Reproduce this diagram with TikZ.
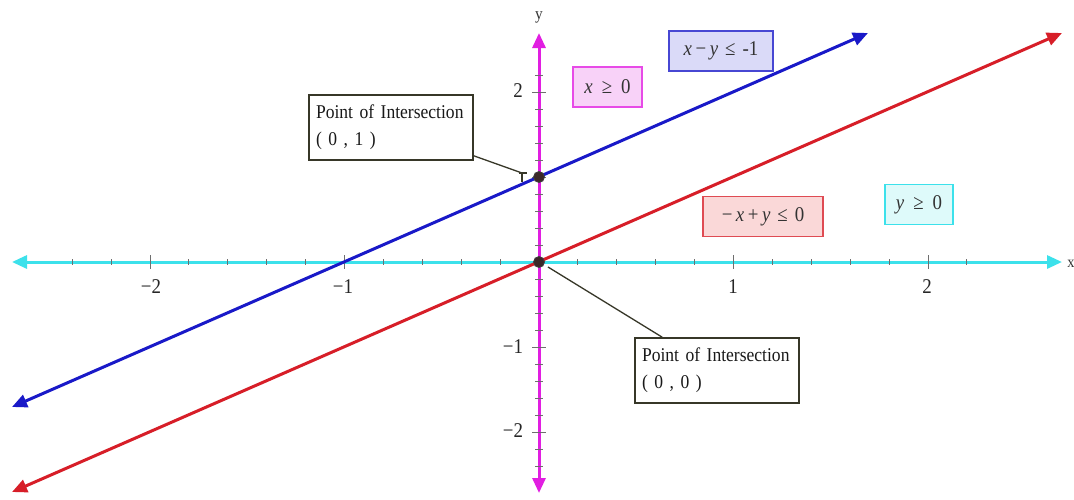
\documentclass[tikz,border=0pt]{standalone}
\usepackage{fontspec}
\setmainfont{Liberation Serif}[FakeStretch=0.9]
\usetikzlibrary{arrows.meta}
\definecolor{cblue}{RGB}{25,25,200}
\definecolor{cred}{RGB}{215,30,40}
\definecolor{ccyan}{RGB}{60,225,235}
\definecolor{cmag}{RGB}{225,30,225}
\definecolor{dotc}{RGB}{60,40,40}
\definecolor{edgec}{RGB}{55,55,40}
\definecolor{tickc}{RGB}{110,110,110}
\definecolor{fmag}{RGB}{248,210,248}
\definecolor{fblue}{RGB}{218,218,248}
\definecolor{fred}{RGB}{250,216,216}
\definecolor{fcyan}{RGB}{222,250,250}
\begin{document}
\begin{tikzpicture}[x=1pt,y=-1pt,
  tip/.style={-{Triangle[length=15pt,width=13pt]}},
  bitip/.style={{Triangle[length=15pt,width=13pt]}-{Triangle[length=15pt,width=13pt]}},
  axisline/.style={line width=3pt},
  graphline/.style={line width=3pt},
  tickmark/.style={draw=tickc, line width=1pt},
  ticklabel/.style={font=\fontsize{21}{23}\selectfont, text=black!85, inner sep=0pt},
  pbox/.style={draw=edgec, line width=1.6pt, fill=white, align=left, text width=150pt,
    inner xsep=7pt, minimum height=65pt, font=\fontsize{19.5}{27}\selectfont,
    text=black!90},
  mbox/.style={line width=1.4pt, inner xsep=2pt, minimum height=40pt,
    font=\fontsize{21}{23}\selectfont, text=black!80},
  leader/.style={draw=edgec, line width=1.3pt},
  dot/.style={circle, fill=dotc, draw=black!75, line width=0.8pt, minimum size=11pt, inner sep=0pt}
]
\useasboundingbox (0,0) rectangle (1074,499);
\fill[white] (0,0) rectangle (1074,499);

% axes
\draw[axisline, ccyan, bitip] (12,262) -- (1062,262);
\draw[axisline, cmag, bitip] (539,493) -- (539,33);

% ticks
\foreach \i in {-12,...,11}{
  \pgfmathtruncatemacro\m{mod(abs(\i),5)}
  \ifnum\i=0\relax\else
    \ifnum\m=0
      \draw[tickmark] ({539+38.9*\i},255) -- ++(0,14);
      \draw[tickmark] (532,{262-17*\i}) -- ++(14,0);
    \else
      \draw[tickmark] ({539+38.9*\i},259) -- ++(0,6);
      \draw[tickmark] (535,{262-17*\i}) -- ++(8,0);
    \fi
  \fi
}

% tick labels
\node[ticklabel] (tm2) at (151,287) {−2};
\node[ticklabel] (tm1) at (343,287) {−1};
\node[ticklabel] (tp1) at (733,287) {1};
\node[ticklabel] (tp2) at (927,287) {2};
\node[ticklabel] (ty2) at (518,91) {2};
\node[ticklabel] (tym1) at (513,347) {−1};
\node[ticklabel] (tym2) at (513,431) {−2};

% axis labels
\node[font=\fontsize{16}{18}\selectfont, text=black!80, inner sep=0pt] (xlab) at (1071,264) {x};
\node[font=\fontsize{17}{19}\selectfont, text=black!80, inner sep=0pt] (ylab) at (539,17) {y};

% graph lines
\draw[graphline, cblue, bitip] (12,407) -- (868,33);
\draw[graphline, cred, bitip] (12,492) -- (1062,33);

% intersection points
\node[dot] (o1) at (539,177) {};
\node[dot] (o0) at (539,262) {};

% boxes
\node[mbox, draw=cmag!80, fill=fmag, minimum width=69pt] (bx) at (607.5,87)
  {\textit{x}\hspace{9pt}≥\hspace{9pt}0};
\node[mbox, draw=cblue!80, fill=fblue, minimum width=104pt] (bxy) at (721,51)
  {\textit{x}\,−\,\textit{y}\hspace{7pt}≤\hspace{7pt}-1};
\node[mbox, draw=cred!80, fill=fred, minimum width=120pt] (bnxy) at (763,216.5)
  {−\,\textit{x}\,+\,\textit{y}\hspace{7pt}≤\hspace{7pt}0};
\node[mbox, draw=ccyan, fill=fcyan, minimum width=68pt] (by) at (919,204.5)
  {\textit{y}\hspace{9pt}≥\hspace{9pt}0};

\node[pbox] (p1) at (391,127.5) {\mbox{Point of Intersection}\\( 0 , 1 )};
\node[pbox] (p0) at (717,370.5) {\mbox{Point of Intersection}\\( 0 , 0 )};

% leaders
\coordinate (l1) at (522,173);
\draw[leader] ([yshift=5pt]p1.south east) -- (l1);
\draw[leader] (519,173) -- (527,173) (522,173) -- (522,182);
\coordinate (l0) at (548,267);
\draw[leader] ([xshift=28pt]p0.north west) -- (l0);
\end{tikzpicture}
\end{document}
